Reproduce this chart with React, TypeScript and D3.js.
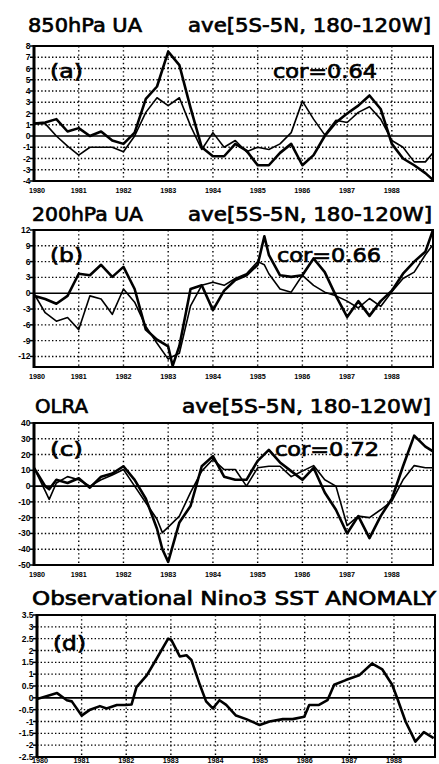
import React from 'react';
import * as d3 from 'd3';

const WIDTH = 439;
const HEIGHT = 764;

const yearTicks = [1980, 1981, 1982, 1983, 1984, 1985, 1986, 1987, 1988];
const yearLabels = ['1980', '1981', '1982', '1983', '1984', '1985', '1986', '1987', '1988'];

// (a) 850hPa UA
const timesA = [1980, 1980.25, 1980.5, 1980.75, 1981, 1981.25, 1981.5, 1981.75, 1982, 1982.25, 1982.5, 1982.75,
  1983, 1983.25, 1983.5, 1983.75, 1984, 1984.25, 1984.5, 1984.75, 1985, 1985.25, 1985.5, 1985.75,
  1986, 1986.25, 1986.5, 1986.75, 1987, 1987.25, 1987.5, 1987.75, 1988, 1988.25, 1988.5, 1988.75, 1988.92];
const ua850Thick = [1.1, 1.2, 1.5, 0.4, 0.7, 0, 0.4, -0.4, -0.7, 0.3, 3.3, 4.4, 7.5, 6.3, 2.5, -1, -1.8, -1.8, -0.7, -1.3,
  -2.6, -2.6, -1.5, -0.7, -2.6, -1.7, 0, 1.2, 2, 2.7, 3.6, 2.4, -0.7, -2, -2.6, -3.3, -3.9];
const ua850Thin = [1.1, 1.1, 0, -0.9, -1.7, -1, -1, -1, -1.4, 0, 2.1, 3.4, 2.7, 3.4, 0.9, -1.2, 0.3, -1, -0.4, -1.4,
  -1, -1.2, -0.7, 0.3, 3.1, 1.5, 0.1, 1.4, 1.2, 2.1, 2.6, 1.5, -0.4, -1, -2.3, -2.3, -1.5];
const ticksA = [-4, -3, -2, -1, 0, 1, 2, 3, 4, 5, 6, 7, 8];

// (b) 200hPa UA
const timesB = [1980, 1980.25, 1980.5, 1980.75, 1981, 1981.25, 1981.5, 1981.75, 1982, 1982.25, 1982.5, 1982.75,
  1983, 1983.1, 1983.25, 1983.5, 1983.75, 1984, 1984.25, 1984.5, 1984.75, 1985, 1985.15, 1985.25, 1985.5, 1985.75,
  1986, 1986.25, 1986.5, 1986.75, 1987, 1987.25, 1987.5, 1987.75, 1988, 1988.25, 1988.5, 1988.75, 1988.92];
const ua200Thick = [-0.5, -1.1, -2, -0.5, 3.7, 3.4, 5.4, 3.1, 5, 0.8, -6.9, -8.8, -10.1, -13.8, -10, 0.8, 1.5, -3.2, 0.5,
  2.5, 3.4, 5.4, 10.8, 7.3, 3.4, 3.1, 3.4, 6.6, 4, -0.5, -4.5, -1.5, -4.3, -1.5, 0.5, 3.7, 6, 7.9, 12];
const ua200Thin = [-0.1, -3.7, -5.3, -4.6, -6.9, -0.5, -1.1, -4, 0.8, -1.7, -6.3, -9.5, -12.5, -12, -11.4, -2.4, 1.5, 2.1,
  1.5, 2.8, 3.7, 6, 5.4, 3.7, 0.8, 0.2, 3.4, 1.5, 0.2, -0.5, -1.5, -2.8, -1, -2.5, 0.3, 2.8, 4, 7.3, 9.2];
const ticksB = [-12, -9, -6, -3, 0, 3, 6, 9, 12];

// (c) OLRA
const timesC = [1980, 1980.25, 1980.34, 1980.5, 1980.75, 1981, 1981.25, 1981.5, 1981.75, 1982, 1982.25, 1982.5, 1982.75,
  1982.87, 1983, 1983.25, 1983.5, 1983.75, 1984, 1984.25, 1984.5, 1984.75, 1985, 1985.25, 1985.5, 1985.75,
  1986, 1986.25, 1986.5, 1986.75, 1987, 1987.25, 1987.5, 1987.75, 1988, 1988.25, 1988.5, 1988.75, 1988.92];
const olrThick = [11.6, 0, -2, 4, 2, 5, -1, 6, 8, 12.6, 4, -8, -27, -40, -48, -23, -12.6, 12.6, 19, 6, 4, 4, 16, 23,
  15, 9.5, 4, 11.6, -4, -15, -30, -19, -33, -19, -8, 12.6, 32, 25, 22];
const olrThin = [11.6, -3, -8.4, 2, 6, 4, 0, 4, 7, 10.5, 0, -10.5, -21, -29.5, -26, -19, -4, 9.5, 17, 10.5, 10.5, 0, 11.6,
  12.6, 12.6, 6, 9.5, 13, 4, 0, -25, -19, -20, -15, -9.5, 4, 13, 11.6, 11.6];
const ticksC = [-50, -40, -30, -20, -10, 0, 10, 20, 30, 40];

// (d) Observational Nino3 SST anomaly
const timesD = [1980, 1980.45, 1980.67, 1980.78, 1981, 1981.19, 1981.41, 1981.56, 1981.79, 1981.99, 1982.12, 1982.23,
  1982.46, 1982.68, 1982.94, 1983.01, 1983.2, 1983.35, 1983.46, 1983.65, 1983.79, 1983.94, 1984.09, 1984.24, 1984.46,
  1984.69, 1984.99, 1985.21, 1985.51, 1985.73, 1985.99, 1986.1, 1986.32, 1986.51, 1986.66, 1986.92, 1987.22, 1987.51,
  1987.74, 1987.96, 1988.07, 1988.26, 1988.48, 1988.67, 1988.89];
const nino3 = [-0.05, 0.2, -0.1, -0.15, -0.75, -0.5, -0.35, -0.45, -0.3, -0.3, -0.28, 0.45, 0.95, 1.65, 2.5, 2.45, 1.75,
  1.8, 1.6, 0.55, -0.15, -0.45, -0.1, -0.3, -0.75, -0.9, -1.15, -1.0, -0.9, -0.9, -0.8, -0.3, -0.3, -0.1, 0.55, 0.75,
  0.95, 1.45, 1.2, 0.55, 0, -1.0, -1.85, -1.45, -1.7];
const ticksD = [-2.5, -2, -1.5, -1, -0.5, 0, 0.5, 1, 1.5, 2, 2.5, 3, 3.5];
const tickLabelsD = ['-2.5', '-2', '-1.5', '-1', '-0.5', '0', '0.5', '1', '1.5', '2', '2.5', '3', '3.5'];

const panels = [
  {
    id: 'a', title: '850hPa UA', titleX: 28, titleW: 114, region: 'ave[5S-5N, 180-120W]', regionX: 188, regionW: 243,
    titleY: 32, left: 34, right: 433, top: 46, bottom: 181, domain: [-4, 8], ticks: ticksA,
    tickLabels: ticksA.map(String), labelY: 78, cor: 'cor=0.64', corX: 273, xLabelY: 193,
    times: timesA, series: [ua850Thin, ua850Thick],
  },
  {
    id: 'b', title: '200hPa UA', titleX: 32, titleW: 111, region: 'ave[5S-5N, 180-120W]', regionX: 188, regionW: 244,
    titleY: 221, left: 34, right: 433, top: 230, bottom: 367, domain: [-14, 12], ticks: ticksB,
    tickLabels: ticksB.map(String), labelY: 262, cor: 'cor=0.66', corX: 277, xLabelY: 379,
    times: timesB, series: [ua200Thin, ua200Thick],
  },
  {
    id: 'c', title: 'OLRA', titleX: 35, titleW: 53, region: 'ave[5S-5N, 180-120W]', regionX: 182, regionW: 249,
    titleY: 413, left: 34, right: 433, top: 423, bottom: 565, domain: [-50, 40], ticks: ticksC,
    tickLabels: ticksC.map(String), labelY: 456, cor: 'cor=0.72', corX: 275, xLabelY: 577,
    times: timesC, series: [olrThin, olrThick],
  },
  {
    id: 'd', title: 'Observational Nino3 SST ANOMALY', titleX: 32, titleW: 404, region: '', regionX: 0, regionW: 0,
    titleY: 605, left: 37, right: 435, top: 615, bottom: 757, domain: [-2.5, 3.5], ticks: ticksD,
    tickLabels: tickLabelsD, labelY: 650, cor: '', corX: 0, xLabelY: 763,
    times: timesD, series: [nino3],
  },
];

const TITLE_FONT = '"DejaVu Sans", sans-serif';
const TICK_FONT = '"Liberation Sans", Arial, sans-serif';

function Panel({ p }: { p: typeof panels[number] }) {
  const x = d3.scaleLinear().domain([1980, 1988.92]).range([p.left, p.right]);
  const y = d3.scaleLinear().domain(p.domain).range([p.bottom, p.top]);
  const line = d3.line<number>()
    .x((_, i) => x(p.times[i]))
    .y(d => y(d));
  const clipId = `clip-${p.id}`;

  return (
    <g>
      <defs>
        <clipPath id={clipId}>
          <rect x={p.left} y={p.top} width={p.right - p.left} height={p.bottom - p.top} />
        </clipPath>
      </defs>

      {/* titles */}
      <text x={p.titleX} y={p.titleY} fontFamily={TITLE_FONT} fontSize={p.id === 'd' ? 19 : 20}
        stroke="#000" strokeWidth={0.7} textLength={p.titleW} lengthAdjust="spacingAndGlyphs" fill="#000">{p.title}</text>
      {p.region && (
        <text x={p.regionX} y={p.titleY} fontFamily={TITLE_FONT} fontSize={20} stroke="#000" strokeWidth={0.7}
          textLength={p.regionW} lengthAdjust="spacingAndGlyphs" fill="#000">{p.region}</text>
      )}

      {/* dotted grid */}
      {p.ticks.filter(t => t !== 0 && t !== p.domain[0] && t !== p.domain[1]).map(t => (
        <line key={`h${t}`} x1={p.left} x2={p.right} y1={y(t)} y2={y(t)}
          stroke="#000" strokeWidth={1.4} strokeDasharray="1.4 2.2" />
      ))}
      {yearTicks.slice(1).map(t => (
        <line key={`v${t}`} x1={x(t)} x2={x(t)} y1={p.top} y2={p.bottom}
          stroke="#000" strokeWidth={1.4} strokeDasharray="1.4 2.8" />
      ))}

      {/* zero line */}
      <line x1={p.left} x2={p.right} y1={y(0)} y2={y(0)} stroke="#000" strokeWidth={1.6} />

      {/* series */}
      <g clipPath={`url(#${clipId})`}>
        {p.series.map((s, i) => (
          <path key={i} d={line(s) || ''} fill="none" stroke="#000"
            strokeWidth={i === p.series.length - 1 ? 2.6 : 1.6} strokeLinejoin="round" />
        ))}
      </g>

      {/* frame */}
      <rect x={p.left} y={p.top} width={p.right - p.left} height={p.bottom - p.top}
        fill="none" stroke="#000" strokeWidth={2} />
      <line x1={p.left} x2={p.left} y1={p.top - 1} y2={p.bottom + 1} stroke="#000" strokeWidth={3} />

      {/* y ticks */}
      {p.ticks.map((t, i) => (
        <g key={`yt${t}`}>
          <line x1={p.left - 4} x2={p.left} y1={y(t)} y2={y(t)} stroke="#000" strokeWidth={1.5} />
          <text x={p.left - 3.5} y={y(t) + 3} textAnchor="end" fontFamily={TICK_FONT} fontWeight="bold"
            fontSize={8.5} fill="#000">{p.tickLabels[i]}</text>
        </g>
      ))}

      {/* x labels */}
      {yearTicks.map((t, i) => (
        <text key={`xl${t}`} x={x(t) + (i === 0 ? 3 : 0)} y={p.xLabelY} textAnchor="middle" fontFamily={TICK_FONT}
          fontWeight="bold" fontSize={7} textLength={16} lengthAdjust="spacingAndGlyphs" fill="#000">
          {yearLabels[i]}
        </text>
      ))}

      {/* panel label and correlation */}
      <text x={p.left + 16} y={p.labelY} fontFamily={TITLE_FONT} fontSize={20} stroke="#000" strokeWidth={0.7}
        textLength={33} lengthAdjust="spacingAndGlyphs" fill="#000">{`(${p.id})`}</text>
      {p.cor && (
        <text x={p.corX} y={p.labelY} fontFamily={TITLE_FONT} fontSize={20} stroke="#000" strokeWidth={0.7}
          textLength={104} lengthAdjust="spacingAndGlyphs" fill="#000">{p.cor}</text>
      )}
    </g>
  );
}

export default function App() {
  return (
    <svg width={WIDTH} height={HEIGHT} viewBox={`0 0 ${WIDTH} ${HEIGHT}`}
      style={{ position: 'absolute', left: 0, top: 0, background: '#fff' }}>
      <rect width={WIDTH} height={HEIGHT} fill="#fff" />
      {panels.map(p => <Panel key={p.id} p={p} />)}
    </svg>
  );
}
